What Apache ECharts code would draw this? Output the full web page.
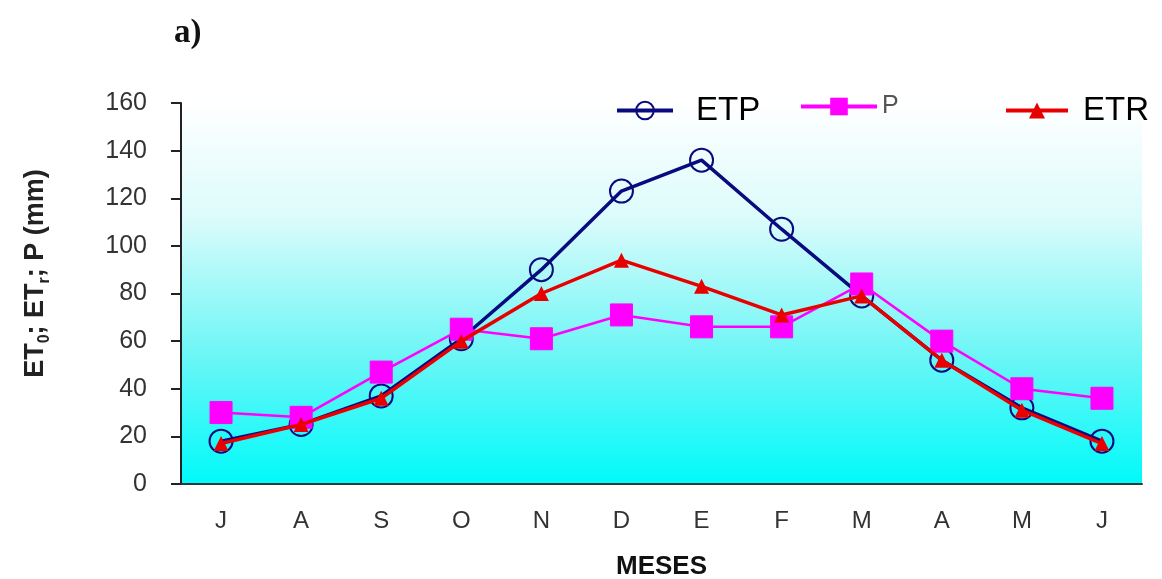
<!DOCTYPE html>
<html><head><meta charset="utf-8">
<script src="https://cdn.jsdelivr.net/npm/echarts@6/dist/echarts.min.js"></script>
<style>html,body{margin:0;padding:0;background:#fff}#c{width:1162px;height:579px}</style>
</head><body><div id="c"></div>
<script>
const months = ['J','A','S','O','N','D','E','F','M','A','M','J'];
const etp = [18, 25, 37, 61, 90, 123, 136, 107, 79, 52, 32, 18];
const p   = [30, 28, 47, 65, 61, 71, 66, 66, 84, 60, 40, 36];
const etr = [17, 25, 36, 60, 80, 94, 83, 71, 79, 52, 31, 17];
const yTicks = [0, 20, 40, 60, 80, 100, 120, 140, 160];

const chart = echarts.init(document.getElementById('c'));
const F = "'Liberation Sans', Arial, sans-serif";
chart.setOption({
  animation: false,
  backgroundColor: '#fff',
  title: {text: 'a)', left: 169, top: 12,
    textStyle: {fontFamily: "'Liberation Serif', 'Times New Roman', serif", fontWeight: 'bold', fontSize: 33, color: '#111'}},
  grid: {left: 181, width: 961, top: 103, height: 381, containLabel: false, outerBoundsMode: 'none',
    backgroundColor: new echarts.graphic.LinearGradient(0,0,0,1,[
      {offset:0, color:'#ffffff'},{offset:0.3, color:'#dcfbfb'},{offset:0.65, color:'#70f6f6'},{offset:1, color:'#00fafa'}]),
    show: true, borderWidth: 0},
  legend: [
    {data:['ETP'], left: 610, top: 89, itemWidth: 56, itemHeight: 22, itemGap: 0,
      lineStyle:{width: 4},
      textStyle:{fontFamily:F, fontSize: 33, color:'#000', padding:[0,0,0,18]}},
    {data:['P'], left: 794, top: 89, itemWidth: 76, itemHeight: 22,
      lineStyle:{width: 4},
      textStyle:{fontFamily:F, fontSize: 25, color:'#555', padding:[-8,0,0,0]}},
    {data:['ETR'], left: 999, top: 89, itemWidth: 62, itemHeight: 20,
      lineStyle:{width: 4},
      textStyle:{fontFamily:F, fontSize: 33, color:'#000', padding:[0,0,0,10]}}
  ],
  xAxis: {type:'category', data: months, boundaryGap: true,
    name: 'MESES', nameLocation: 'middle', nameGap: 70,
    nameTextStyle: {fontFamily: F, fontWeight: 'bold', fontSize: 26, color: '#111'},
    axisLine: {lineStyle: {color:'#2a3a3a', width: 2}},
    axisTick: {show: false},
    axisLabel: {fontFamily: F, fontSize: 24, color: '#333', margin: 25}},
  yAxis: {type:'value', min: 0, max: 160, interval: 20,
    name: '{m|ET}{s|0}{m|; ET}{s|r}{m|; P (mm)}', nameLocation: 'middle', nameGap: 128, nameRotate: 90,
    nameTextStyle: {padding: [0,0,0,40], rich: {
      m: {fontFamily: F, fontWeight: 'bold', fontSize: 27, color: '#222', lineHeight: 34},
      s: {fontFamily: F, fontWeight: 'bold', fontSize: 16, color: '#222', lineHeight: 34, verticalAlign: 'bottom'}}},
    splitLine: {show: false},
    axisLine: {show: true, lineStyle: {color:'#222', width: 2}},
    axisTick: {show: true, inside: false, length: 10, lineStyle: {color:'#222', width: 2}},
    axisLabel: {fontFamily: F, fontSize: 25, color: '#333', margin: 34,
      formatter: v => yTicks.includes(v) ? String(v) : ''}},
  series: [
    {name:'ETP', type:'line', data: etp, symbol:'circle', symbolSize: 23, z: 2,
      lineStyle:{color:'#0a0a80', width: 3.5},
      itemStyle:{color:'rgba(0,0,0,0)', borderColor:'#0a0a80', borderWidth: 2}},
    {name:'P', type:'line', data: p, symbol:'rect', symbolSize: 22, z: 3,
      lineStyle:{color:'#ff00ff', width: 2.5},
      itemStyle:{color:'#ff00ff', borderColor:'#ff00ff'}},
    {name:'ETR', type:'line', data: etr, symbol:'triangle', symbolSize: 15, z: 4,
      lineStyle:{color:'#e80000', width: 3.5},
      itemStyle:{color:'#e80000'}}
  ]
});
</script></body></html>
